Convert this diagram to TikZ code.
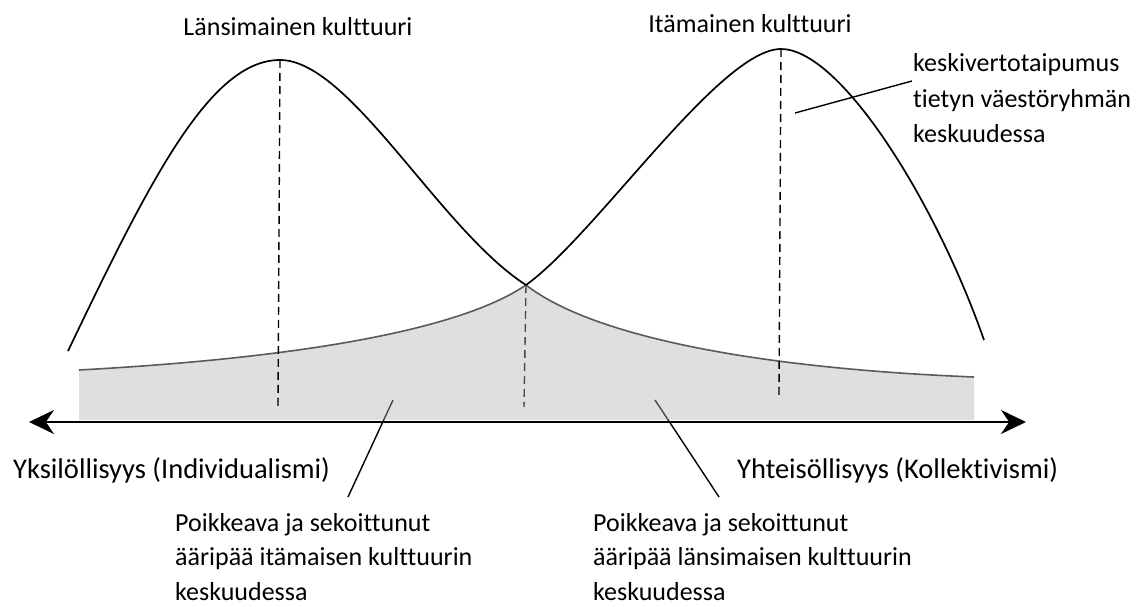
\documentclass[tikz,border=0pt]{standalone}
\usepackage{fontspec}
\setmainfont{Carlito}[Ligatures=NoCommon]
\usetikzlibrary{arrows.meta}
\definecolor{tailline}{HTML}{5A5A5A}
\begin{document}
\begin{tikzpicture}[x=1pt,y=-1pt,
  lbl/.style={font=\fontsize{26}{35.5}\selectfont, inner sep=0pt, align=left},
  lowlbl/.style={font=\fontsize{26}{34.5}\selectfont, inner sep=0pt, align=left},
  axlbl/.style={font=\fontsize{28.5}{34}\selectfont, inner sep=0pt},
  bell/.style={line width=1.7pt, black},
  tail/.style={line width=1.6pt, tailline},
  meanline/.style={line width=1.4pt, dash pattern=on 8pt off 5pt},
  leader/.style={line width=1.4pt},
  axis/.style={line width=2pt, {Stealth[length=25pt,width=24pt]}-{Stealth[length=25pt,width=24pt]}}]
\useasboundingbox (0,0) rectangle (1141,607);
% key points
\coordinate (Lstart) at (68,351);
\coordinate (Lpeak) at (280,60);
\coordinate (X) at (526,285);
\coordinate (Rpeak) at (781,49);
\coordinate (Rend) at (984,340);
\coordinate (TLs) at (79,370);
\coordinate (TRe) at (974,377);
\coordinate (Lfoot) at (278,407);
\coordinate (Xfoot) at (524,407);
\coordinate (Rfoot) at (779,395);
\coordinate (AxL) at (29,422);
\coordinate (AxR) at (1026,422);
% leader line ends
\coordinate (m1) at (912,81);
\coordinate (m2) at (795,113);
\coordinate (e1) at (348,497);
\coordinate (e2) at (393,400);
\coordinate (w1) at (719,497);
\coordinate (w2) at (655,400);
% leader lines (under the translucent shading)
\draw[leader] (e1) -- (e2);
\draw[leader] (w1) -- (w2);
\draw[meanline] (X) -- (Xfoot);
% shaded tails
\fill[black!30, fill opacity=0.41] (79,420) -- (TLs) .. controls (300,358) and (460,330) .. (X)
  .. controls (590,335) and (750,368) .. (TRe) -- (974,420) -- cycle;
\draw[tail] (TLs) .. controls (300,358) and (460,330) .. (X)
  .. controls (590,335) and (750,368) .. (TRe);
% bells
\draw[bell] (Lstart) .. controls (150,180) and (210,60) .. (Lpeak)
  .. controls (350,60) and (440,230) .. (X);
\draw[bell] (X) .. controls (596,235) and (720,49) .. (Rpeak)
  .. controls (840,49) and (935,200) .. (Rend);
% mean lines
\draw[meanline] (Lpeak) -- (Lfoot);
\draw[meanline] (Rpeak) -- (Rfoot);
% axis
\draw[axis] (AxL) -- (AxR);
\draw[leader] (m1) -- (m2);
% labels
\node[lbl, anchor=base] (west) at (298,36) {Länsimainen kulttuuri};
\node[lbl, anchor=base] (east) at (750,33) {Itämainen kulttuuri};
\node[lbl, anchor=base west] (mean) at (913,143) {keskivertotaipumus\\tietyn väestöryhmän\\keskuudessa};
\node[axlbl, anchor=base west] (indiv) at (13,478) {Yksilöllisyys (Individualismi)};
\node[axlbl, anchor=base west] (koll) at (737,478) {Yhteisöllisyys (Kollektivismi)};
\node[lowlbl, anchor=base west] (outE) at (175,600) {Poikkeava ja sekoittunut\\ääripää itämaisen kulttuurin\\keskuudessa};
\node[lowlbl, anchor=base west] (outW) at (593,600) {Poikkeava ja sekoittunut\\ääripää länsimaisen kulttuurin\\keskuudessa};
\end{tikzpicture}
\end{document}
